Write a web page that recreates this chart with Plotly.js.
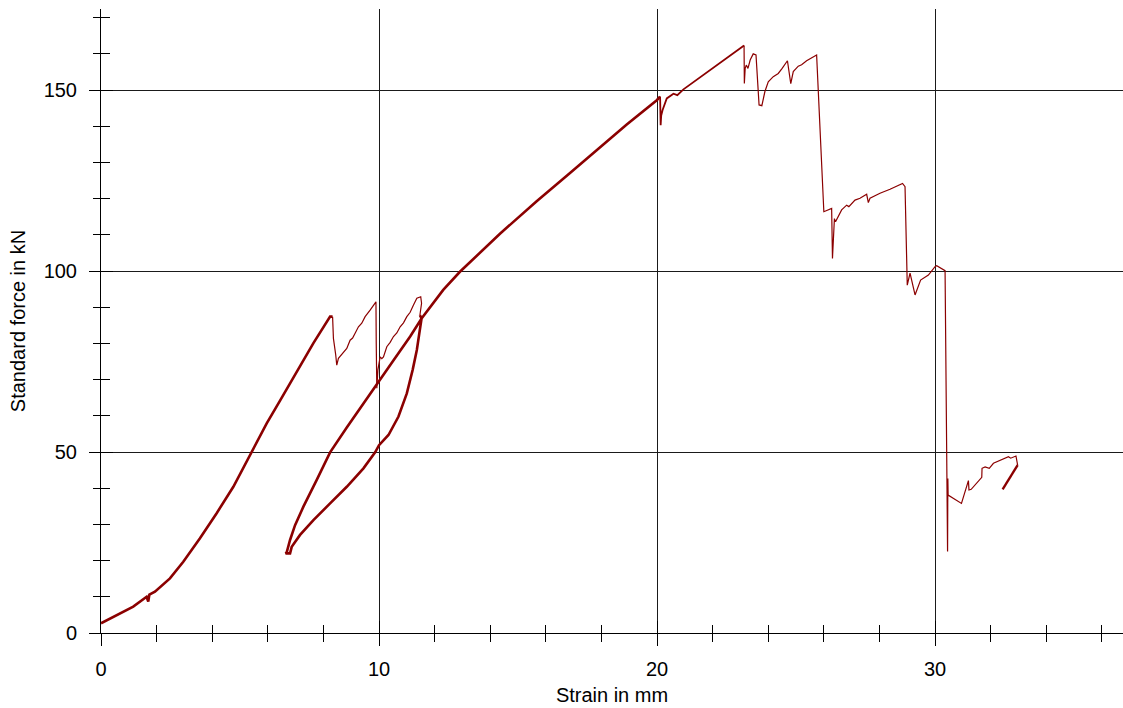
<!DOCTYPE html>
<html>
<head>
<meta charset="utf-8">
<script src="https://cdn.plot.ly/plotly-3.0.1.min.js"></script>
<style>
html,body{margin:0;padding:0;background:#fff;}
#chart{width:1123px;height:708px;}
</style>
</head>
<body>
<div id="chart"></div>
<script>
// Strain (mm) and standard force (kN), split by stroke weight
var loadX = [0, 0.56, 1.16, 1.64, 1.70, 1.74, 1.94, 2.48, 2.96, 3.56, 4.16, 4.76, 5.42, 5.96, 6.44, 6.92, 7.64, 8.24, 8.33];
var loadY = [2.7, 5.0, 7.3, 10.0, 8.7, 10.6, 11.4, 15.1, 19.7, 26.2, 33.1, 40.4, 49.8, 57.9, 64.2, 70.6, 80.1, 87.4, 87.4];

var crackX = [8.33, 8.36, 8.44, 8.48, 8.54, 8.62, 8.70, 8.84, 8.96, 9.05, 9.14, 9.26, 9.38, 9.5, 9.68, 9.89, 9.90, 9.92, 9.96, 10.04, 10.10, 10.16, 10.28, 10.40, 10.52, 10.64, 10.76, 10.88, 11.0, 11.12, 11.24, 11.36, 11.5, 11.53, 11.47];
var crackY = [87.4, 81.4, 77.0, 74.0, 75.9, 76.6, 77.5, 78.6, 80.9, 81.5, 82.8, 84.6, 85.6, 87.4, 89.2, 91.5, 80.0, 67.6, 72.7, 76.3, 75.8, 76.3, 79.1, 80.3, 81.9, 82.9, 84.6, 85.7, 87.4, 88.6, 90.6, 92.5, 92.9, 91.1, 87.8];

var loopX = [11.47, 11.53, 11.45, 11.36, 11.21, 11.0, 10.70, 10.34, 10.0, 9.86, 9.44, 8.84, 8.24, 7.64, 7.16, 6.86, 6.80, 6.64, 6.68, 6.80, 6.98, 7.28, 7.76, 8.24, 8.84, 9.44, 9.92, 10.51, 11.12, 11.53, 12.31, 12.91, 14.35, 15.67, 16.87, 18.19, 18.91, 19.99, 20.11];
var loopY = [87.8, 86.9, 82.8, 78.2, 72.7, 66.2, 59.8, 54.7, 51.9, 49.9, 45.5, 40.4, 35.8, 31.2, 27.1, 23.8, 22.0, 22.0, 22.3, 25.7, 29.8, 34.9, 42.3, 49.9, 56.8, 63.3, 68.6, 75.2, 81.9, 86.9, 94.8, 99.8, 110.3, 119.3, 127.1, 135.9, 140.5, 147.2, 148.2];

var peakX = [20.11, 20.13, 20.15, 20.2, 20.35, 20.59, 20.73, 20.95, 21.4, 21.79, 22.2, 22.63, 23.13];
var peakY = [148.2, 140.3, 143.0, 144.5, 147.7, 149.0, 148.6, 150.2, 152.7, 154.8, 157.0, 159.4, 162.3];

var failX = [23.13, 23.14, 23.17, 23.21, 23.27, 23.35, 23.46, 23.56, 23.67, 23.77, 23.88, 24.0, 24.18, 24.36, 24.5, 24.69, 24.81, 24.9, 25.08, 25.2, 25.38, 25.74, 26.0, 26.28, 26.31, 26.38, 26.42, 26.64, 26.82, 26.9, 27.12, 27.3, 27.54, 27.6, 27.66, 28.02, 28.38, 28.74, 28.83, 28.92, 29.0, 29.1, 29.28, 29.48, 29.76, 30.0, 30.06, 30.36, 30.45, 30.46, 30.47, 30.95, 31.2, 31.22, 31.3, 31.68, 31.69, 31.8, 31.95, 32.1, 32.34, 32.64, 32.72, 32.91, 32.97];
var failY = [162.3, 151.8, 156.0, 156.9, 156.0, 158.3, 160.0, 159.7, 145.9, 145.7, 149.6, 152.3, 153.7, 154.6, 156.0, 158.1, 151.8, 155.1, 156.6, 157.0, 158.1, 159.7, 116.4, 117.3, 103.5, 114.5, 113.6, 116.9, 118.2, 117.8, 119.6, 120.1, 121.2, 118.9, 120.1, 121.5, 122.6, 123.8, 124.2, 123.3, 96.1, 99.4, 93.4, 97.5, 98.9, 101.2, 101.5, 100.1, 22.5, 42.7, 38.1, 35.8, 42.1, 39.5, 39.7, 43.0, 45.5, 45.9, 45.5, 46.9, 47.8, 48.7, 48.3, 48.9, 46.4];

var endX = [32.97, 32.43];
var endY = [46.4, 39.7];

var xTickVals = [0, 10, 20, 30];
var yTickVals = [0, 50, 100, 150];

var RED = '#8b0000';
var FONT = 'Liberation Sans, Arial, sans-serif';

function seg(x, y, w) {
  return {x: x, y: y, type: 'scatter', mode: 'lines', line: {color: RED, width: w}, hoverinfo: 'x+y', showlegend: false};
}

var traces = [
  seg(loadX, loadY, 2.6),
  seg(crackX, crackY, 1.2),
  seg(loopX, loopY, 2.6),
  seg(peakX, peakY, 1.8),
  seg(failX, failY, 1.2),
  seg(endX, endY, 2.4),
  {x: [], y: [], xaxis: 'x2', yaxis: 'y2', type: 'scatter', mode: 'lines', showlegend: false, hoverinfo: 'skip'}
];

var xr = [0, 36.76];
var yr = [0, 172.4];

var layout = {
  width: 1123, height: 708,
  margin: {l: 101, r: 0, t: 9, b: 75, pad: 0},
  paper_bgcolor: '#ffffff', plot_bgcolor: '#ffffff',
  font: {family: FONT, size: 20, color: '#000'},
  showlegend: false,
  xaxis: {
    range: xr, tickmode: 'array', tickvals: xTickVals, ticktext: xTickVals.map(String),
    ticks: 'outside', ticklen: 12, tickwidth: 1, tickcolor: '#000',
    showline: true, linecolor: '#000', linewidth: 1,
    showgrid: true, gridcolor: '#1a1a1a', gridwidth: 1, zeroline: false,
    minor: {dtick: 2, tick0: 0, ticks: 'outside', ticklen: 8, tickwidth: 1, tickcolor: '#000', showgrid: false},
    tickfont: {family: FONT, size: 20, color: '#000'},
    ticklabelstandoff: 6,
    title: {text: 'Strain in mm', font: {family: FONT, size: 20, color: '#000'}, standoff: 8},
    fixedrange: true
  },
  yaxis: {
    range: yr, tickmode: 'array', tickvals: yTickVals, ticktext: yTickVals.map(String),
    ticks: 'outside', ticklen: 11, tickwidth: 1, tickcolor: '#000',
    showline: true, linecolor: '#000', linewidth: 1,
    showgrid: true, gridcolor: '#1a1a1a', gridwidth: 1, zeroline: false,
    minor: {dtick: 10, tick0: 0, ticks: 'outside', ticklen: 7, tickwidth: 1, tickcolor: '#000', showgrid: false},
    tickfont: {family: FONT, size: 20, color: '#000'},
    ticklabelstandoff: 8,
    title: {text: 'Standard force in kN', font: {family: FONT, size: 20, color: '#000'}, standoff: 12},
    fixedrange: true
  },
  xaxis2: {
    overlaying: 'x', anchor: 'y2', range: xr, tickmode: 'array', tickvals: xTickVals,
    ticks: 'inside', ticklen: 12, tickwidth: 1, tickcolor: '#000', showticklabels: false,
    showline: false, showgrid: false, zeroline: false,
    minor: {dtick: 2, tick0: 0, ticks: 'inside', ticklen: 8, tickwidth: 1, tickcolor: '#000', showgrid: false},
    fixedrange: true
  },
  yaxis2: {
    overlaying: 'y', anchor: 'x2', side: 'left', range: yr, tickmode: 'array', tickvals: yTickVals,
    ticks: 'inside', ticklen: 12, tickwidth: 1, tickcolor: '#000', showticklabels: false,
    showline: false, showgrid: false, zeroline: false,
    minor: {dtick: 10, tick0: 0, ticks: 'inside', ticklen: 9, tickwidth: 1, tickcolor: '#000', showgrid: false},
    fixedrange: true
  }
};

Plotly.newPlot('chart', traces, layout, {displayModeBar: false, staticPlot: true});
</script>
</body>
</html>
